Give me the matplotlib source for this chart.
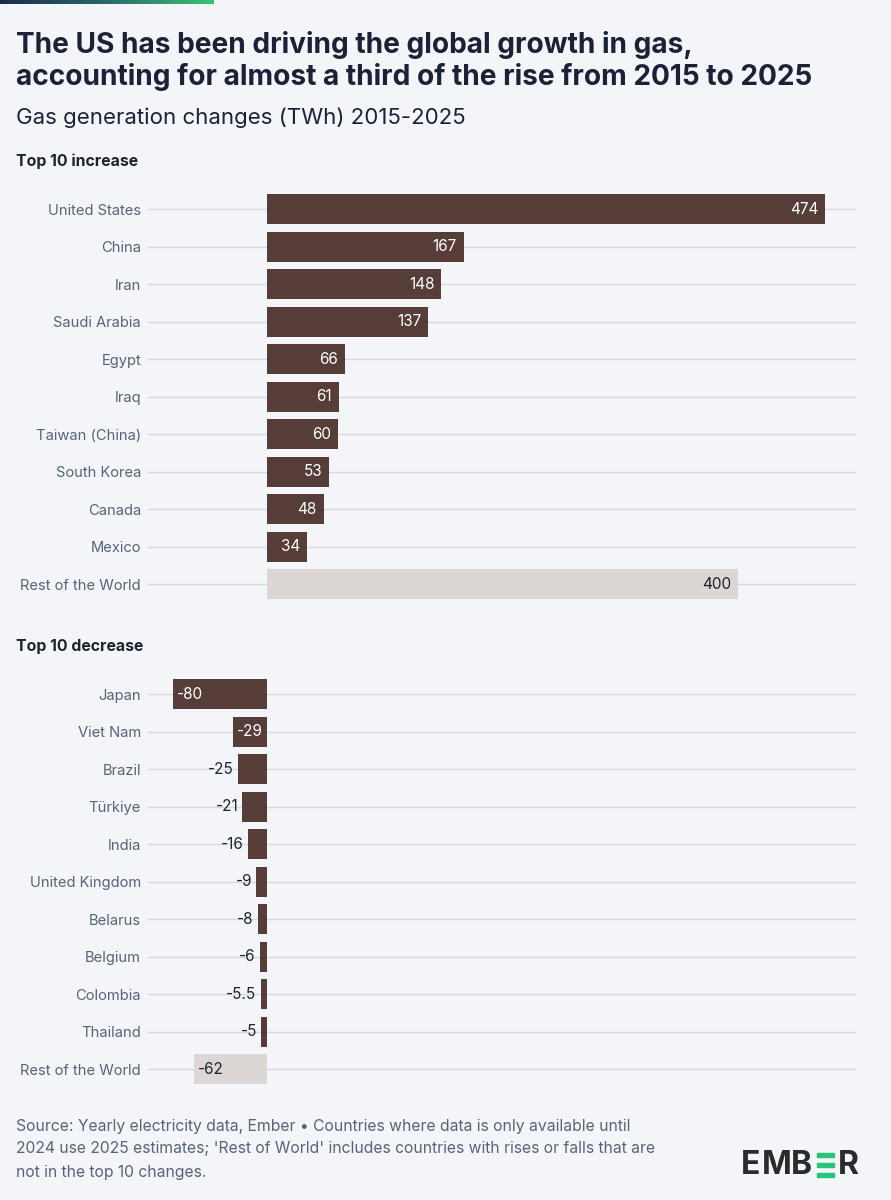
import numpy as np
import matplotlib.pyplot as plt
from matplotlib.patches import Rectangle
from matplotlib.colors import LinearSegmentedColormap

# data (TWh change 2015-2025)
inc_countries = ['United States', 'China', 'Iran', 'Saudi Arabia', 'Egypt', 'Iraq',
                 'Taiwan (China)', 'South Korea', 'Canada', 'Mexico', 'Rest of the World']
inc_values = [474, 167, 148, 137, 66, 61, 60, 53, 48, 34, 400]
inc_labels = ['474', '167', '148', '137', '66', '61', '60', '53', '48', '34', '400']

dec_countries = ['Japan', 'Viet Nam', 'Brazil', 'Türkiye', 'India', 'United Kingdom',
                 'Belarus', 'Belgium', 'Colombia', 'Thailand', 'Rest of the World']
dec_values = [-80, -29, -25, -21, -16, -9, -8, -6, -5.5, -5, -62]
dec_labels = ['-80', '-29', '-25', '-21', '-16', '-9', '-8', '-6', '-5.5', '-5', '-62']

BG = '#f4f5f9'
BAR = '#573d38'
ROW = '#dcd6d4'
GRID = '#d6d9e1'
TITLE = '#1b2238'
LABEL = '#586378'
DARK = '#1f2330'
FONT = ['Inter', 'DejaVu Sans']

plt.rcParams['font.family'] = FONT

W, H = 891, 1200
fig = plt.figure(figsize=(W / 100, H / 100), dpi=100, facecolor=BG)

# pixel helpers
def fx(px):
    return px / W

def fy(py):
    return 1 - py / H

# gradient strip at the top
grad = np.linspace(0, 1, 256).reshape(1, -1)
gax = fig.add_axes([0, fy(4), fx(214), 4 / H])
cmap = LinearSegmentedColormap.from_list('ember', ['#1d2a4d', '#2a6a6a', '#3cc173'])
gax.imshow(grad, aspect='auto', cmap=cmap)
gax.axis('off')

fig.text(fx(16), fy(45), 'The US has been driving the global growth in gas,',
         fontsize=20.2, fontweight='bold', color=TITLE, va='center')
fig.text(fx(16), fy(77), 'accounting for almost a third of the rise from 2015 to 2025',
         fontsize=20.2, fontweight='bold', color=TITLE, va='center')
fig.text(fx(16), fy(118), 'Gas generation changes (TWh) 2015-2025',
         fontsize=16, color=TITLE, va='center')

XMIN, XMAX = -101.1, 500.3
PX_PER = 558 / 474


def panel(top_px, names, vals, labels):
    n = len(names)
    ax = fig.add_axes([fx(148), fy(top_px + 37.5 * n), fx(856 - 148), 37.5 * n / H])
    ax.set_facecolor(BG)
    colors = [BAR] * (n - 1) + [ROW]
    y = np.arange(n)
    ax.barh(y, vals, height=0.79, color=colors, zorder=2)
    ax.set_xlim(XMIN, XMAX)
    ax.set_ylim(n - 0.5, -0.5)
    ax.set_yticks(y)
    ax.set_yticklabels(names, fontsize=10.6, color=LABEL)
    ax.tick_params(axis='y', length=0, pad=5)
    ax.set_xticks([])
    ax.grid(axis='y', color=GRID, lw=1, zorder=0)
    for s in ax.spines.values():
        s.set_visible(False)

    for i, (v, lab) in enumerate(zip(vals, labels)):
        last = i == n - 1
        inside = abs(v) * PX_PER > 32
        col = DARK if last else 'white'
        if v > 0:
            ax.annotate(lab, (v, i), xytext=(-5, 0), textcoords='offset points',
                        ha='right', va='center', fontsize=11, color=col, zorder=3)
        elif inside:
            ax.annotate(lab, (v, i), xytext=(3, 0), textcoords='offset points',
                        ha='left', va='center', fontsize=11, color=col, zorder=3)
        else:
            ax.annotate(lab, (v, i), xytext=(-3, 0), textcoords='offset points',
                        ha='right', va='center', fontsize=11, color=DARK, zorder=3)
    return ax


fig.text(fx(16), fy(161), 'Top 10 increase', fontsize=11.4, fontweight='bold',
         color=DARK, va='center')
panel(190.5, inc_countries, inc_values, inc_labels)

fig.text(fx(16), fy(647), 'Top 10 decrease', fontsize=11.4, fontweight='bold',
         color=DARK, va='center')
panel(675.5, dec_countries, dec_values, dec_labels)

footer = ["Source: Yearly electricity data, Ember \u2022 Countries where data is only available until",
          "2024 use 2025 estimates; 'Rest of World' includes countries with rises or falls that are",
          "not in the top 10 changes."]
for k, line in enumerate(footer):
    fig.text(fx(16), fy(1126 + 23 * k), line, fontsize=11.3, color=LABEL, va='center')

# EMBER logo: letters placed one by one, the stylised E is three green bars
for letter, cx in [('E', 751), ('M', 776.5), ('B', 801.5), ('R', 848)]:
    fig.text(fx(cx), fy(1165), letter, fontsize=23, fontweight='bold', color='#2b2b2e',
             va='center', ha='center')
for yb in [1153, 1163, 1173]:
    fig.patches.append(Rectangle((fx(817), fy(yb + 4)), fx(17), 4 / H,
                                 transform=fig.transFigure, color='#27c57a'))

fig.savefig('out.png', dpi=100, facecolor=BG)
